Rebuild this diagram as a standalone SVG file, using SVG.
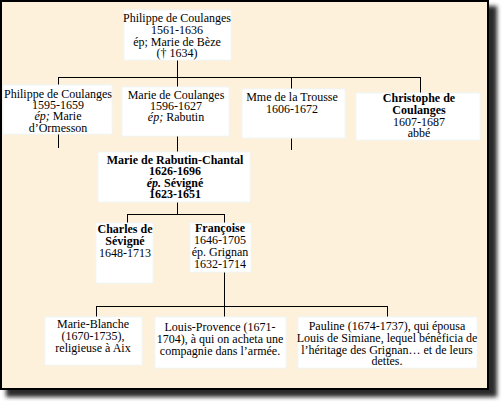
<svg xmlns="http://www.w3.org/2000/svg" width="502" height="401" viewBox="0 0 502 401">
<defs>
<filter id="sh" x="-5%" y="-5%" width="110%" height="110%"><feGaussianBlur stdDeviation="2"/></filter>
<style>
text{font-family:"Liberation Serif","Times New Roman",serif;font-size:12px;fill:#000;text-anchor:middle}
.b{font-weight:bold}
.i{font-style:italic}
.box{fill:#fff;stroke:#f0f8f8;stroke-width:1}
#connectors line{stroke:#000;stroke-width:1}
</style>
</defs>
<rect x="0" y="0" width="502" height="401" fill="#fff"/>
<rect x="6" y="6" width="491" height="391" fill="#2b2b2b" filter="url(#sh)"/>
<rect x="1" y="1" width="487" height="388" fill="#fdf1dc" stroke="#000" stroke-width="2"/>

<g id="connectors">
<line x1="177.5" y1="60" x2="177.5" y2="77.5"/>
<line x1="58" y1="77.5" x2="420" y2="77.5"/>
<line x1="58.5" y1="77" x2="58.5" y2="85"/>
<line x1="177.5" y1="77" x2="177.5" y2="87"/>
<line x1="291.5" y1="77" x2="291.5" y2="89"/>
<line x1="420.5" y1="77" x2="420.5" y2="93"/>
<line x1="58.5" y1="134" x2="58.5" y2="148"/>
<line x1="177.5" y1="136" x2="177.5" y2="152"/>
<line x1="291.5" y1="138" x2="291.5" y2="150"/>
<line x1="177.5" y1="202" x2="177.5" y2="215"/>
<line x1="127" y1="214.5" x2="225" y2="214.5"/>
<line x1="127.5" y1="214" x2="127.5" y2="223"/>
<line x1="224.5" y1="214" x2="224.5" y2="223"/>
<line x1="224.5" y1="272" x2="224.5" y2="307"/>
<line x1="96" y1="306.5" x2="388" y2="306.5"/>
<line x1="96.5" y1="306" x2="96.5" y2="317"/>
<line x1="224.5" y1="306" x2="224.5" y2="317"/>
<line x1="387.5" y1="306" x2="387.5" y2="317"/>
</g>

<g id="n-philippe-1561">
<rect class="box" x="124" y="10" width="107" height="50"/>
<text x="177" y="22">Philippe de Coulanges</text>
<text x="177" y="34">1561-1636</text>
<text x="177" y="46">ép; Marie de Bèze</text>
<text x="177" y="57">(† 1634)</text>
</g>

<g id="n-philippe-1595">
<rect class="box" x="3" y="85" width="109" height="49"/>
<text x="58" y="98">Philippe de Coulanges</text>
<text x="58" y="109">1595-1659</text>
<text x="58" y="120"><tspan class="i">ép;</tspan> Marie</text>
<text x="58" y="132">d’Ormesson</text>
</g>

<g id="n-marie-coulanges">
<rect class="box" x="122" y="87" width="107" height="49"/>
<text x="176" y="99">Marie de Coulanges</text>
<text x="176" y="110">1596-1627</text>
<text x="176" y="121"><tspan class="i">ép;</tspan> Rabutin</text>
</g>

<g id="n-trousse">
<rect class="box" x="242" y="89" width="103" height="49"/>
<text x="292" y="101">Mme de la Trousse</text>
<text x="292" y="113">1606-1672</text>
</g>

<g id="n-christophe">
<rect class="box" x="356" y="93" width="124" height="47"/>
<text class="b" x="419" y="102">Christophe de</text>
<text class="b" x="419" y="114">Coulanges</text>
<text x="419" y="126">1607-1687</text>
<text x="419" y="137">abbé</text>
</g>

<g id="n-rabutin">
<rect class="box" x="98" y="152" width="152" height="50"/>
<text class="b" x="175" y="164">Marie de Rabutin-Chantal</text>
<text class="b" x="175" y="175">1626-1696</text>
<text class="b" x="175" y="187"><tspan class="i">ép.</tspan> Sévigné</text>
<text class="b" x="175" y="198">1623-1651</text>
</g>

<g id="n-charles">
<rect class="box" x="96" y="223" width="57" height="60"/>
<text class="b" x="125" y="233">Charles de</text>
<text class="b" x="125" y="245">Sévigné</text>
<text x="125" y="257">1648-1713</text>
</g>

<g id="n-francoise">
<rect class="box" x="190" y="223" width="61" height="49"/>
<text class="b" x="220" y="232">Françoise</text>
<text x="220" y="244">1646-1705</text>
<text x="220" y="256">ép. Grignan</text>
<text x="220" y="268">1632-1714</text>
</g>

<g id="n-marie-blanche">
<rect class="box" x="45" y="317" width="97" height="48"/>
<text x="93" y="328">Marie-Blanche</text>
<text x="93" y="340">(1670-1735),</text>
<text x="93" y="352">religieuse à Aix</text>
</g>

<g id="n-louis-provence">
<rect class="box" x="155" y="317" width="131" height="51"/>
<text x="220" y="331">Louis-Provence (1671-</text>
<text x="220" y="343">1704), à qui on acheta une</text>
<text x="220" y="355">compagnie dans l’armée.</text>
</g>

<g id="n-pauline">
<rect class="box" x="298" y="317" width="179" height="51"/>
<text x="387" y="330">Pauline (1674-1737), qui épousa</text>
<text x="387" y="342">Louis de Simiane, lequel bénéficia de</text>
<text x="387" y="354">l’héritage des Grignan… et de leurs</text>
<text x="387" y="365">dettes.</text>
</g>
</svg>
